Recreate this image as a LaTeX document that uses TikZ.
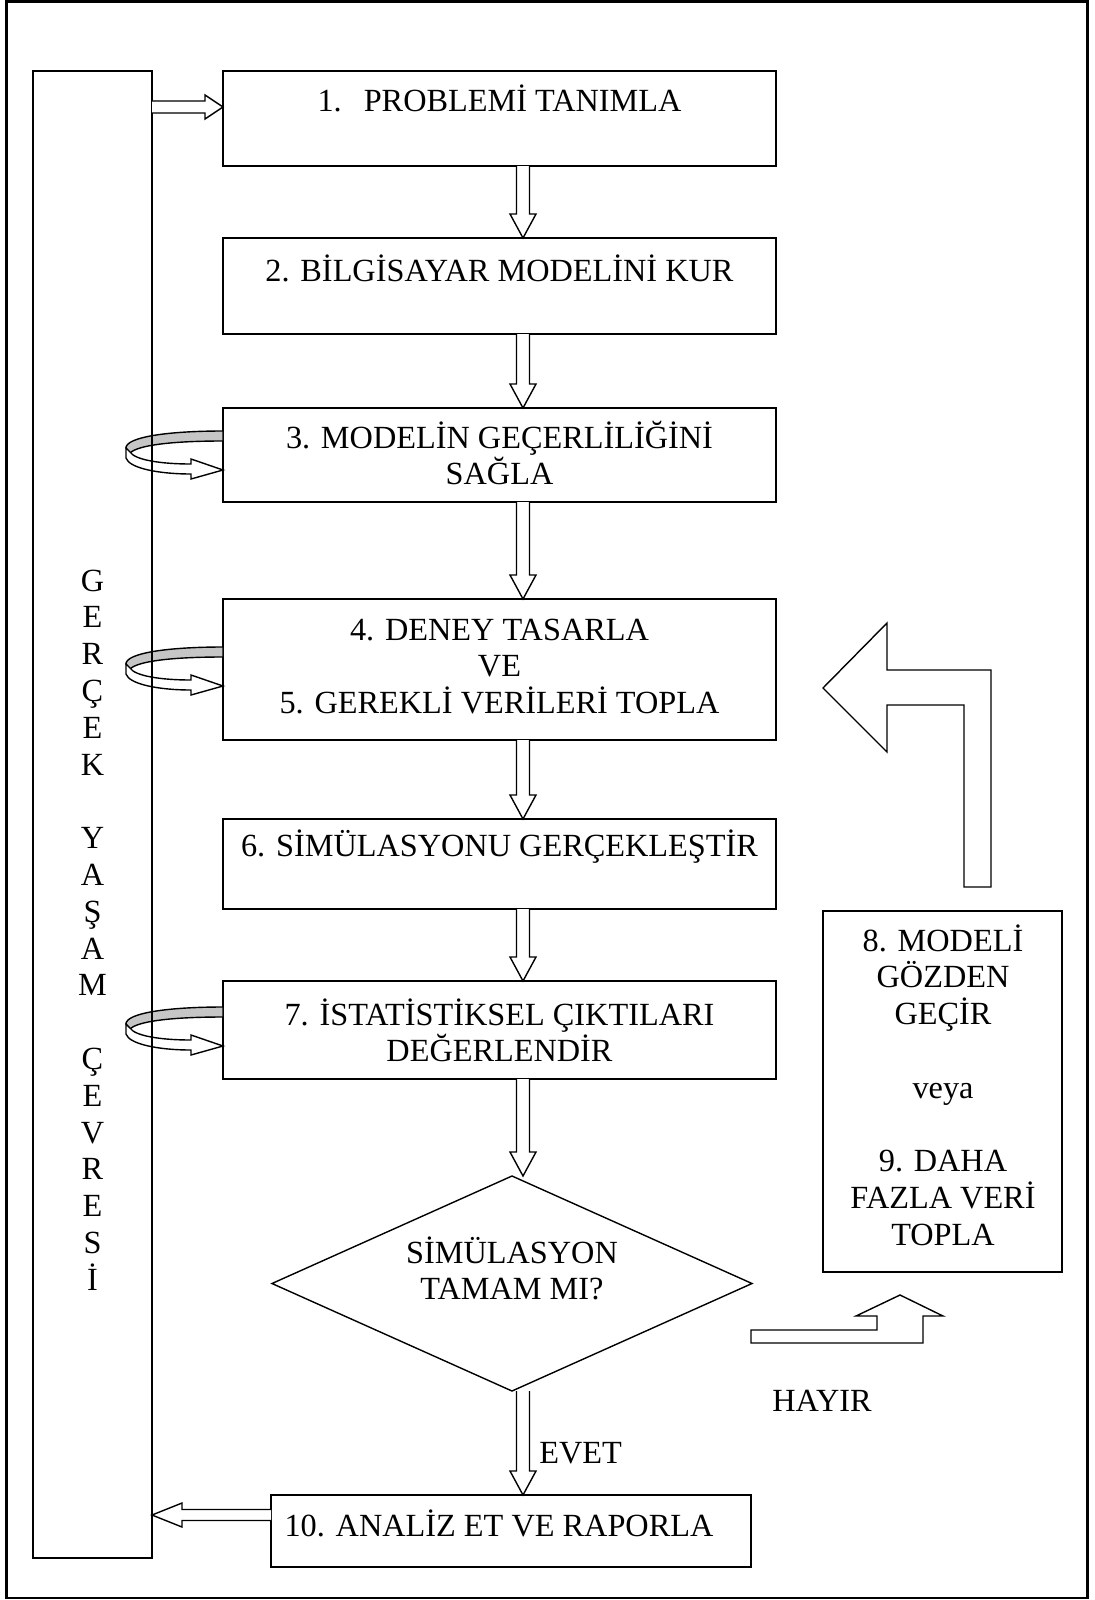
\documentclass[tikz,border=0pt]{standalone}
\usepackage{fontspec}
\setmainfont{Liberation Serif}
\usetikzlibrary{calc,fit,shapes.geometric}

% hollow block arrow pointing down, from the bottom of one node to the top of the next
\newcommand\vdown[2]{%
  \draw[blk] ($(#1 -| ax)+(-6.5,0)$) -- ($(#2 -| ax)+(-6.5,-24)$)
    -- ($(#2 -| ax)+(-13,-24)$) -- (#2 -| ax) -- ($(#2 -| ax)+(13,-24)$)
    -- ($(#2 -| ax)+(6.5,-24)$) -- ($(#1 -| ax)+(6.5,0)$);}

\begin{document}
\begin{tikzpicture}[x=0.5pt,y=-0.5pt,
  box/.style={draw, line width=0.7pt, inner sep=0pt, outer sep=0pt},
  % multi-line texts are placed by the baseline of their last line
  txt/.style={font=\fontsize{16.15pt}{18.4pt}\selectfont, inner sep=0pt, align=center, anchor=base},
  blk/.style={draw, fill=white, line width=0.7pt, line join=miter},
  loopback/.pic={
    % back half of the loop (shaded)
    \draw[line width=0.7pt, fill=gray!45]
      (0,-39) .. controls (-55,-39) and (-97,-33) .. (-97,-22)
      -- (-93,-17) .. controls (-85,-25) and (-50,-29) .. (0,-29) -- cycle;
    % front half with its head
    \draw[line width=0.7pt, fill=white, line join=miter]
      (-97,-22) -- (-97,-12) .. controls (-94,-2) and (-65,4) .. (-32,4)
      -- (-32,9) -- (0,0) -- (-32,-11) -- (-32,-6)
      .. controls (-62,-6) and (-88,-10) .. (-93,-18) -- cycle;
  }]
\useasboundingbox (0,0) rectangle (1094,1600);

% frame
\draw[line width=1.1pt] (6.5,1.5) rectangle (1087.5,1598);

% axis of the vertical flow arrows
\coordinate (ax) at (523,0);

% process boxes
\node[box, fit={(223,71)(776,166)}]   (b1) {};
\node[box, fit={(223,238)(776,334)}]  (b2) {};
\node[box, fit={(223,408)(776,502)}]  (b3) {};
\node[box, fit={(223,599)(776,740)}]  (b4) {};
\node[box, fit={(223,819)(776,909)}]  (b6) {};
\node[box, fit={(223,981)(776,1079)}] (b7) {};
\node[box, diamond, minimum width=240pt, minimum height=107.5pt] (d) at (512,1283.5) {};
\node[box, fit={(271,1495)(751,1567)}] (b10) {};
\node[box, fit={(823,911)(1062,1272)}] (b89) {};

% texts
\node[txt] (t1) at (499.5,112) {1.\hspace{11pt}PROBLEMİ TANIMLA};
\node[txt] (t2) at (499.5,281) {2. BİLGİSAYAR MODELİNİ KUR};
\node[txt] (t3) at (499.5,484.8) {3. MODELİN GEÇERLİLİĞİNİ\\SAĞLA};
\node[txt] (t4) at (499.5,713.6) {4. DENEY TASARLA\\VE\\5. GEREKLİ VERİLERİ TOPLA};
\node[txt] (t6) at (499.5,856) {6. SİMÜLASYONU GERÇEKLEŞTİR};
\node[txt] (t7) at (499.5,1061.8) {7. İSTATİSTİKSEL ÇIKTILARI\\DEĞERLENDİR};
\node[txt] (td) at (512,1299.8) {SİMÜLASYON\\TAMAM MI?};
\node[txt] (t10) at (499,1536) {10. ANALİZ ET VE RAPORLA};
\node[txt] (t89) at (943,1245.4) {8. MODELİ\\GÖZDEN\\GEÇİR\\ \\veya\\ \\9. DAHA\\FAZLA VERİ\\TOPLA};
\node[txt] (hayir) at (822,1411) {HAYIR};
\node[txt, anchor=base west] (evet) at (539,1463) {EVET};

% flow arrows down the column
\vdown{b1.south}{b2.north}
\vdown{b2.south}{b3.north}
\vdown{b3.south}{b4.north}
\vdown{b4.south}{b6.north}
\vdown{b6.south}{b7.north}
\vdown{b7.south}{d.north}
\vdown{d.south}{b10.north}

% looping arrows on the left of steps 3, 4-5 and 7
\pic at ($(b3.north west)+(0,62)$) {loopback};
\pic at ($(b4.north west)+(0,87)$) {loopback};
\pic at ($(b7.north west)+(0,65)$) {loopback};

% real-world environment column
\node[box, fit={(33,71)(152,1558)}] (lb) {};
\node[txt] (tv) at (92.5,1290.2) {G\\E\\R\\Ç\\E\\K\\ \\Y\\A\\Ş\\A\\M\\ \\Ç\\E\\V\\R\\E\\S\\İ};

% environment -> step 1
\coordinate (in1) at ($(b1.north west)+(0,36)$);
\draw[blk] ($(lb.east |- in1)+(0,-6)$) -- ($(in1)+(-18,-6)$) -- ($(in1)+(-18,-12)$)
  -- (in1) -- ($(in1)+(-18,12)$) -- ($(in1)+(-18,6)$) -- ($(lb.east |- in1)+(0,6)$);

% step 10 -> environment
\coordinate (out10) at ($(b10.north west)+(0,20)$);
\coordinate (ret) at (lb.east |- out10);
\draw[blk] ($(out10)+(0,-5.5)$) -- ($(ret)+(30,-5.5)$) -- ($(ret)+(30,-12)$)
  -- (ret) -- ($(ret)+(30,12)$) -- ($(ret)+(30,5.5)$) -- ($(out10)+(0,5.5)$);

% "no" branch: up towards steps 8/9
\coordinate (Ht) at ($(b89.south)+(-42.5,23)$);
\draw[blk] ($(Ht)+(-149,35)$) -- ($(Ht)+(-23,35)$) -- ($(Ht)+(-23,21)$) -- ($(Ht)+(-44,21)$)
  -- (Ht) -- ($(Ht)+(43,21)$) -- ($(Ht)+(23,21)$) -- ($(Ht)+(23,48)$) -- ($(Ht)+(-149,48)$) -- cycle;

% return from steps 8/9 to step 4-5
\coordinate (Lt) at ($(b4.east)+(47,18.5)$);
\draw[blk] (Lt) -- ($(Lt)+(64,-65)$) -- ($(Lt)+(64,-18)$) -- ($(Lt)+(168,-18)$)
  -- ($(Lt)+(168,199)$) -- ($(Lt)+(141,199)$) -- ($(Lt)+(141,17)$) -- ($(Lt)+(64,17)$)
  -- ($(Lt)+(64,64)$) -- cycle;
\end{tikzpicture}
\end{document}
